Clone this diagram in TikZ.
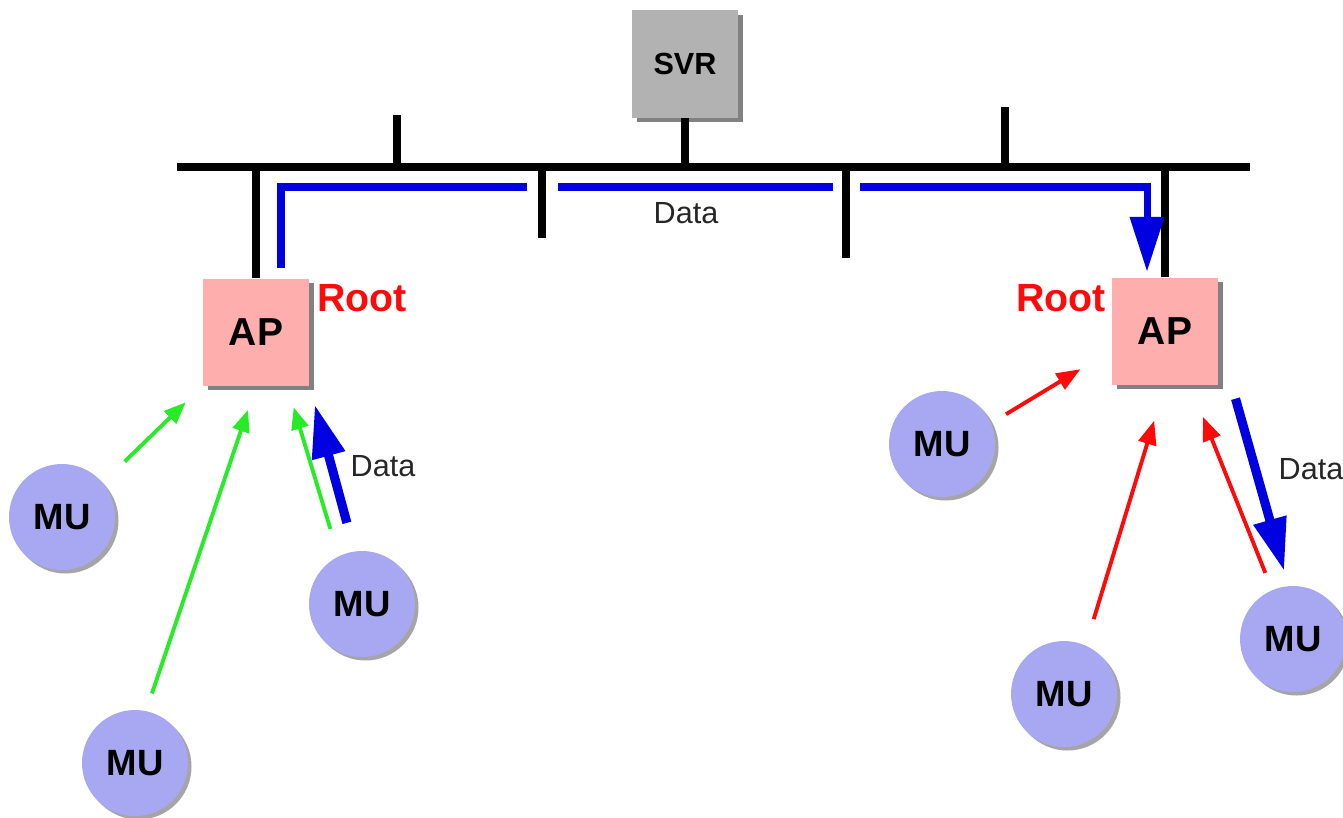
\documentclass[tikz,border=0pt]{standalone}
\usepackage{fontspec}
\setmainfont{Liberation Sans}
\usetikzlibrary{arrows.meta,shadows,calc}

\definecolor{apfill}{RGB}{255,174,174}
\definecolor{mufill}{RGB}{168,168,242}
\definecolor{svrfill}{RGB}{178,178,178}
\definecolor{linkgreen}{RGB}{40,235,40}
\definecolor{linkred}{RGB}{255,10,10}
\definecolor{datablue}{RGB}{0,0,225}

\begin{document}
\begin{tikzpicture}[
    box/.style={minimum width=1.06cm, minimum height=1.07cm, inner sep=0pt,
      drop shadow={shadow xshift=0.45mm, shadow yshift=-0.45mm, fill=black!70, opacity=0.7},
      font=\fontsize{11.1}{13}\selectfont\bfseries},
    mu/.style={circle, fill=mufill, minimum size=1.06cm, inner sep=0pt,
      drop shadow={shadow xshift=0.35mm, shadow yshift=-0.35mm, fill=black!70, opacity=0.5},
      font=\fontsize{10.4}{12}\selectfont\bfseries},
    root/.style={text=linkred, font=\fontsize{11.2}{13}\selectfont\bfseries},
    lbl/.style={text=black!85, font=\fontsize{8.7}{10}\selectfont},
    bus/.style={line width=2.3pt, black},
    datapath/.style={line width=2pt, datablue},
    data/.style={datablue, line width=2.6pt, -{Triangle[length=5.3mm,width=3.2mm]}},
    greenlink/.style={linkgreen, line width=1.1pt, -{Triangle[length=2.2mm,width=1.7mm]}},
    redlink/.style={linkred, line width=1.1pt, -{Triangle[length=2.4mm,width=1.8mm]}}
  ]
  \useasboundingbox (0,0) rectangle (13.43,-8.17);

  % server and access points
  \node[box, fill=svrfill, font=\fontsize{8.7}{10}\selectfont\bfseries] (svr) at (6.85,-0.64) {SVR};
  \node[box, fill=apfill] (apL) at (2.56,-3.32) {AP};
  \node[box, fill=apfill] (apR) at (11.65,-3.31) {AP};

  \node[root] (rootL) at (3.62,-2.98) {Root};
  \node[root] (rootR) at (10.61,-2.98) {Root};

  % mobile units
  \node[mu] (muA) at (0.62,-5.17) {MU};
  \node[mu] (muB) at (1.35,-7.63) {MU};
  \node[mu] (muC) at (3.62,-6.04) {MU};
  \node[mu] (muD) at (9.42,-4.44) {MU};
  \node[mu] (muE) at (10.64,-6.94) {MU};
  \node[mu] (muF) at (12.93,-6.39) {MU};

  % backbone with its taps
  \coordinate (busW) at (1.77,-1.67);
  \coordinate (busE) at (12.50,-1.67);
  \coordinate (tap1) at (3.97,-1.15);
  \coordinate (tap2) at (10.05,-1.07);
  \coordinate (tap3) at (5.42,-2.38);
  \coordinate (tap4) at (8.46,-2.58);

  \draw[bus] (busW) -- (busE);
  \draw[bus] (svr.south) -- (svr.south |- busW);
  \draw[bus] (apL.north) -- (apL.north |- busW);
  \draw[bus] (apR.north) -- (apR.north |- busW);
  \foreach \t in {tap1,tap2,tap3,tap4}
    \draw[bus] (\t) -- (\t |- busW);

  % data along the backbone
  \draw[datapath] ([xshift=2.5mm,yshift=1mm]apL.north) |- (5.27,-1.87);
  \draw[datapath] (5.58,-1.87) -- (8.33,-1.87);
  \draw[datapath, -{Triangle[length=5.5mm,width=3.3mm]}] (8.60,-1.87) -| ([xshift=-1.8mm,yshift=0.5mm]apR.north);
  \node[lbl] (dataTop) at (6.86,-2.13) {Data};

  % left cell
  \draw[greenlink, shorten <=3mm, shorten >=2.3mm] (muA.40) -- (apL.south west);
  \draw[greenlink, shorten <=1.8mm, shorten >=2.5mm] (muB.78) -- (apL.south);
  \draw[greenlink, shorten <=2.8mm, shorten >=2.2mm] (muC.116) -- (apL.-60);
  \draw[data, shorten <=2.9mm, shorten >=1.9mm] (muC.98) -- (apL.south east);
  \node[lbl] (dataL) at (3.83,-4.66) {Data};

  % right cell
  \draw[redlink, shorten <=1.7mm, shorten >=3.6mm] (muD.23) -- (apR.200);
  \draw[redlink, shorten <=2.7mm, shorten >=3.7mm] (muE.66) -- (apR.south);
  \draw[redlink, shorten <=1.8mm, shorten >=3.4mm] (muF.113) -- (apR.-65);
  \draw[data, shorten <=1.4mm, shorten >=1.5mm] ($(apR.south east)+(0.13,0)$) -- (muF.95);
  \node[lbl] (dataR) at (13.11,-4.69) {Data};
\end{tikzpicture}
\end{document}
